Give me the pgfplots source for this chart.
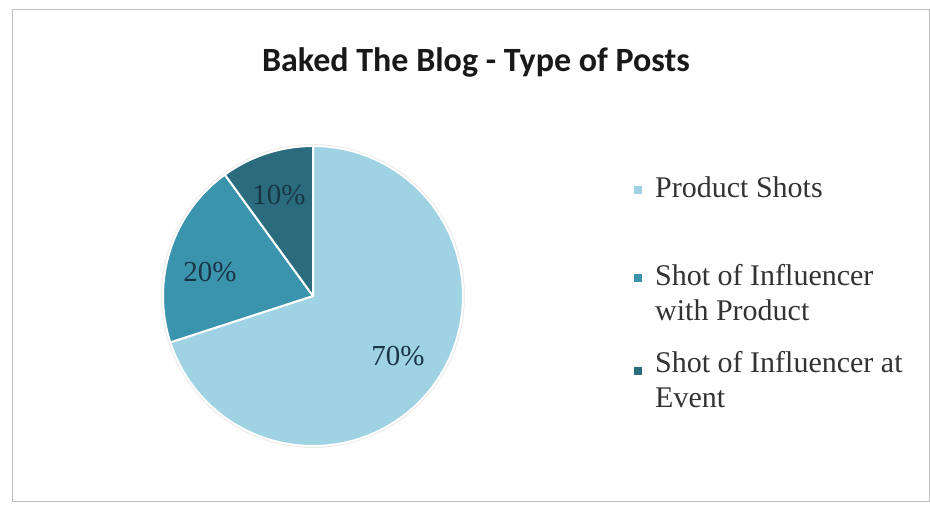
\documentclass[border=0pt]{standalone}
\usepackage{pgfplots}
\pgfplotsset{compat=1.18}
\usepackage{pgfplotstable}
\usepackage{fontspec}
\setmainfont{Liberation Serif}
\newfontfamily\titlefont{Carlito}
\definecolor{cA}{HTML}{9FD3E4}
\definecolor{cB}{HTML}{3B94AD}
\definecolor{cC}{HTML}{2A6B7E}
\definecolor{lbl}{HTML}{1A3646}
\definecolor{legtxt}{HTML}{333333}
\definecolor{frame}{HTML}{BDBDBD}

\pgfplotstableread{
share
70
20
10
}\piedata

\begin{document}
\begin{tikzpicture}
\pgfplotstablegetelem{0}{share}\of\piedata \let\vA\pgfplotsretval
\pgfplotstablegetelem{1}{share}\of\piedata \let\vB\pgfplotsretval
\pgfplotstablegetelem{2}{share}\of\piedata \let\vC\pgfplotsretval
\pgfmathsetmacro\aA{90-3.6*\vA}
\pgfmathsetmacro\aB{\aA-3.6*\vB}
\pgfmathsetmacro\aC{\aB-3.6*\vC}
\begin{axis}[x=1pt,y=1pt,xmin=0,xmax=930,ymin=0,ymax=507,hide axis,scale only axis,clip=false]
\path (axis cs:0,0) rectangle (axis cs:930,507);
\draw[frame,line width=1pt] (axis cs:12,6) rectangle (axis cs:929,497);
\fill[cA,draw=white,line width=2pt,line join=round] (axis cs:313,211) -- +(90:150pt) arc[start angle=90,end angle=\aA,radius=150pt] -- cycle;
\fill[cB,draw=white,line width=2pt,line join=round] (axis cs:313,211) -- +(\aA:150pt) arc[start angle=\aA,end angle=\aB,radius=150pt] -- cycle;
\fill[cC,draw=white,line width=2pt,line join=round] (axis cs:313,211) -- +(\aB:150pt) arc[start angle=\aB,end angle=\aC,radius=150pt] -- cycle;
\draw[white!85!gray,line width=1pt] (axis cs:313,211) circle[radius=151.5pt];
\node[lbl,font=\fontsize{29}{34}\selectfont] at (axis cs:279,312) {\vC\%};
\node[lbl,font=\fontsize{29}{34}\selectfont] at (axis cs:210,235) {\vB\%};
\node[lbl,font=\fontsize{29}{34}\selectfont] at (axis cs:398,151) {\vA\%};
\node[black!90,font=\titlefont\bfseries\fontsize{34}{40}\selectfont] at (axis cs:476,445) {Baked The Blog - Type of Posts};
\fill[cA] (axis cs:634,312.5) rectangle (axis cs:642,320.5);
\fill[cB] (axis cs:634,224.5) rectangle (axis cs:642,232.5);
\fill[cC] (axis cs:634,132) rectangle (axis cs:642,140);
\begin{scope}[every node/.style={legtxt,anchor=mid west,inner sep=0pt,font=\fontsize{30}{35}\selectfont}]
\node at (axis cs:655,312) {Product Shots};
\node at (axis cs:655,224) {Shot of Influencer};
\node at (axis cs:655,189) {with Product};
\node at (axis cs:655,137) {Shot of Influencer at};
\node at (axis cs:655,102) {Event};
\end{scope}
\end{axis}
\end{tikzpicture}
\end{document}
